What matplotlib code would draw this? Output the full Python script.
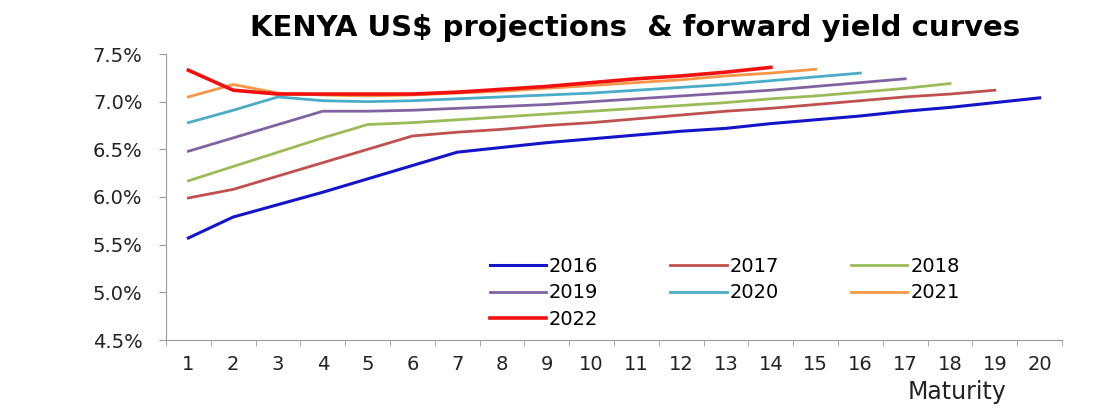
import matplotlib.pyplot as plt
import matplotlib.ticker as mticker
import numpy as np

# %%
maturity = list(range(1, 21))
years = ["2016", "2017", "2018", "2019", "2020", "2021", "2022"]

y2016 = [5.57, 5.79, 5.92, 6.05, 6.19, 6.33, 6.47, 6.52, 6.57, 6.61, 6.65, 6.69,
         6.72, 6.77, 6.81, 6.85, 6.90, 6.94, 6.99, 7.04]
y2017 = [5.99, 6.08, 6.22, 6.36, 6.50, 6.64, 6.68, 6.71, 6.75, 6.78, 6.82, 6.86,
         6.90, 6.93, 6.97, 7.01, 7.05, 7.08, 7.12]
y2018 = [6.17, 6.32, 6.47, 6.62, 6.76, 6.78, 6.81, 6.84, 6.87, 6.90, 6.93, 6.96,
         6.99, 7.03, 7.06, 7.10, 7.14, 7.19]
y2019 = [6.48, 6.62, 6.76, 6.90, 6.90, 6.91, 6.93, 6.95, 6.97, 7.00, 7.03, 7.06,
         7.09, 7.12, 7.16, 7.20, 7.24]
y2020 = [6.78, 6.91, 7.05, 7.01, 7.00, 7.01, 7.03, 7.05, 7.07, 7.09, 7.12, 7.15,
         7.18, 7.22, 7.26, 7.30]
y2021 = [7.05, 7.18, 7.09, 7.07, 7.06, 7.07, 7.09, 7.11, 7.14, 7.17, 7.20, 7.23,
         7.27, 7.30, 7.34]
y2022 = [7.33, 7.12, 7.08, 7.08, 7.08, 7.08, 7.10, 7.13, 7.16, 7.20, 7.24, 7.27,
         7.31, 7.36]

series = [y2016, y2017, y2018, y2019, y2020, y2021, y2022]
colors = ["#1414C8", "#C0504D", "#9BBB59", "#8064A2", "#4BACC6", "#F79646", "#F01010"]
widths = [2.2, 2.0, 2.0, 2.0, 2.0, 2.0, 2.6]

# %%
fig = plt.figure(figsize=(10.94, 4.12), dpi=100)
ax = fig.add_axes([166 / 1094, 1 - 340 / 412, (1062 - 166) / 1094, (340 - 54) / 412])

lines = []
for yr, vals, c, w in zip(years, series, colors, widths):
    l, = ax.plot(maturity[:len(vals)], vals, color=c, lw=w, label=yr)
    lines.append(l)

ax.set_xlim(0.5, 20.5)
ax.set_ylim(4.5, 7.5)
ax.set_xticks(maturity)
ax.xaxis.set_minor_locator(mticker.FixedLocator(np.arange(0.5, 21, 1)))
ax.tick_params(axis="x", which="major", length=0, pad=11, labelsize=14, labelcolor="#222222")
ax.tick_params(axis="x", which="minor", length=4, direction="out", color="#999999")
ax.set_yticks(np.arange(4.5, 7.51, 0.5))
ax.yaxis.set_major_formatter(mticker.FuncFormatter(lambda v, p: f"{v:.1f}%"))
ax.tick_params(axis="y", length=5, color="#999999", labelsize=14, labelcolor="#222222", pad=12)

for s in ["top", "right"]:
    ax.spines[s].set_visible(False)
ax.spines["left"].set_color("#999999")
ax.spines["bottom"].set_color("#999999")

fig.text(635 / 1094, 1 - 28 / 412, "KENYA US$ projections  & forward yield curves",
         ha="center", va="center", fontsize=21, fontweight="bold")
fig.text(957 / 1094, 1 - 392 / 412, "Maturity", ha="center", va="center",
         fontsize=17, color="#222222")

# row-wise legend order: 2016 2017 2018 / 2019 2020 2021 / 2022
order = [0, 3, 6, 1, 4, 2, 5]
ax.legend([lines[i] for i in order], [years[i] for i in order],
          loc="upper left", bbox_to_anchor=(480 / 1094, 1 - 247 / 412),
          bbox_transform=fig.transFigure, ncol=3, frameon=False, fontsize=14,
          handlelength=2.9, handletextpad=0.15, columnspacing=3.7,
          labelspacing=0.4, borderpad=0)

plt.savefig("out.png", dpi=100)
